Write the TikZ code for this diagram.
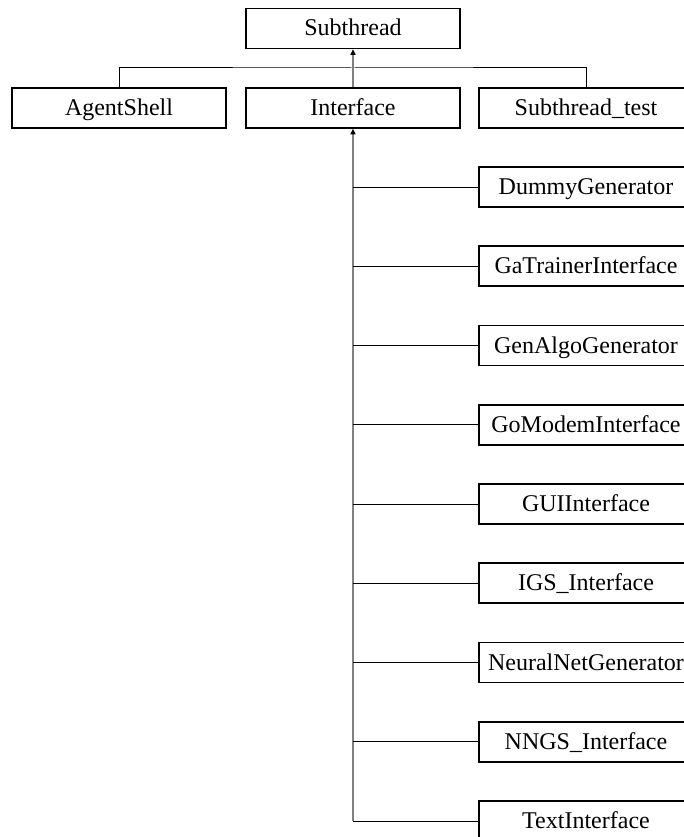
\documentclass[tikz,border=0pt]{standalone}
\usepackage{fontspec}
\setmainfont{Liberation Serif}
\usetikzlibrary{arrows.meta}

\begin{document}
\begin{tikzpicture}[x=1pt, y=-1pt,
  classbox/.style={draw=black, line width=1.6pt, fill=white, rectangle,
    minimum width=214pt, minimum height=40pt, inner sep=0pt,
    text height=18pt, text depth=3pt,
    font=\fontsize{24}{28}\selectfont},
  branch/.style={draw=black, line width=1pt},
  trunk/.style={draw=black!50, line width=1.3pt},
  head/.style={{Triangle[length=5.5pt, width=5pt, color=black]}-}
]
\useasboundingbox (0,0) rectangle (683,837);

% base class
\node[classbox] (Subthread) at (353,28.5) {Subthread};

% direct subclasses
\node[classbox] (AgentShell)     at (119,108) {AgentShell};
\node[classbox] (Interface)      at (353,108) {Interface};
\node[classbox] (Subthread_test) at (586,108) {Subthread\_test};

% subclasses of Interface
\foreach \name [count=\i from 0] in {DummyGenerator, GaTrainerInterface,
    GenAlgoGenerator, GoModemInterface, GUIInterface, IGS_Interface,
    NeuralNetGenerator, NNGS_Interface, TextInterface}
  \node[classbox] (\name) at (586,{187+79.25*\i}) {\detokenize\expandafter{\name}};

% inheritance from Subthread
\coordinate (bus) at (353,68);
\draw[branch] (AgentShell.north) |- (bus) -| (Subthread_test.north);
\draw[trunk, head] (Subthread.south) -- (Interface.north);

% inheritance from Interface
\draw[trunk, head] (Interface.south) -- (Interface.south |- TextInterface.west);
\foreach \name in {DummyGenerator, GaTrainerInterface, GenAlgoGenerator,
    GoModemInterface, GUIInterface, IGS_Interface, NeuralNetGenerator,
    NNGS_Interface, TextInterface}
  \draw[branch] (Interface.south |- \name.west) -- (\name.west);
\end{tikzpicture}
\end{document}
